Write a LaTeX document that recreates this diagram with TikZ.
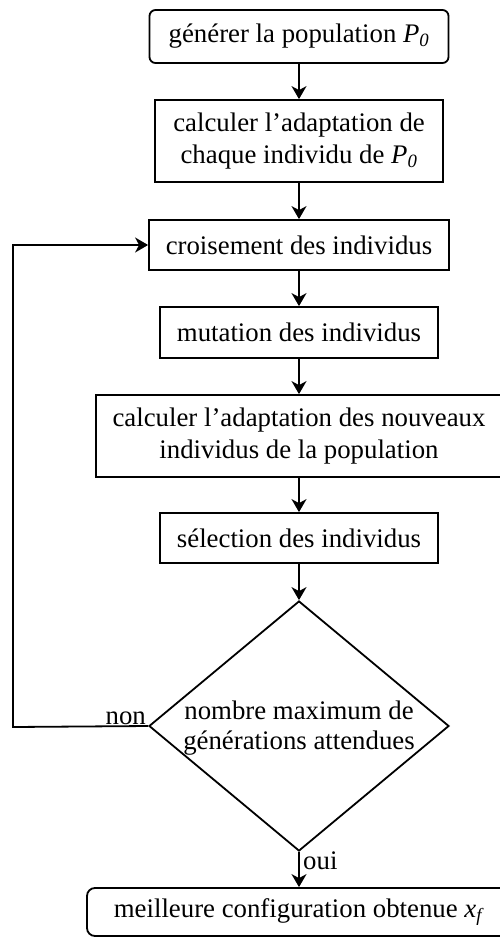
\documentclass[tikz,border=0pt]{standalone}
\usepackage{fontspec}
\setmainfont{Liberation Serif}
\usetikzlibrary{shapes.geometric,arrows.meta}
\begin{document}
\begin{tikzpicture}[x=1pt,y=-1pt,
  every node/.style={font=\fontsize{26.8}{32}\selectfont},
  box/.style={draw,line width=1.8pt,inner sep=0pt,align=center},
  rbox/.style={box,rounded corners=6pt},
  flow/.style={line width=1.8pt,-{Stealth[length=13pt,width=15pt,inset=4pt]}},
  lbl/.style={inner sep=0pt}]
\useasboundingbox (0,0) rectangle (500,938);
\clip (0,0) rectangle (500,938);
\fill[white] (0,0) rectangle (500,938);

% process steps
\node[rbox,minimum width=299pt,minimum height=53pt] (gen) at (299,36.5)
  {générer la population \textit{P}\textsubscript{\textit{0}}};
\node[box,minimum width=288pt,minimum height=82pt] (fit0) at (299,141)
  {calculer l’adaptation de\\chaque individu de \textit{P}\textsubscript{\textit{0}}};
\node[box,minimum width=300pt,minimum height=50pt] (cross) at (299,245)
  {croisement des individus};
\node[box,minimum width=278pt,minimum height=51pt] (mut) at (299,332.5)
  {mutation des individus};
\node[box,minimum width=406pt,minimum height=82pt] (fit) at (299,436)
  {calculer l’adaptation des nouveaux\\individus de la population};
\node[box,minimum width=278pt,minimum height=50pt] (sel) at (299,538)
  {sélection des individus};

% stopping test
\node[draw,line width=1.8pt,diamond,inner sep=0pt,minimum width=300pt,
  minimum height=250pt] (test) at (299,726) {};
\node[align=center,inner sep=0pt,font=\fontsize{26.8}{30}\selectfont] (testtxt) at (299,728)
  {nombre maximum de\\générations attendues};

% result
\node[rbox,rounded corners=8pt,minimum width=424pt,minimum height=48pt] (best) at (299,912)
  {meilleure configuration obtenue \textit{x}\textsubscript{\textit{f}}};

% connectors
\draw[flow] (gen) -- (fit0);
\draw[flow] (fit0) -- (cross);
\draw[flow] (cross) -- (mut);
\draw[flow] (mut) -- (fit);
\draw[flow] (fit) -- (sel);
\draw[flow] (sel) -- (test.north);
\draw[flow] (test.south) -- (best);
\coordinate (loop) at (13,727);
\draw[flow] (test.west) -- (loop) |- (cross.west);

% branch labels
\node[lbl,anchor=base east] (non) at (146,724) {non};
\node[lbl,anchor=base west] (oui) at (303,869) {oui};
\end{tikzpicture}
\end{document}
